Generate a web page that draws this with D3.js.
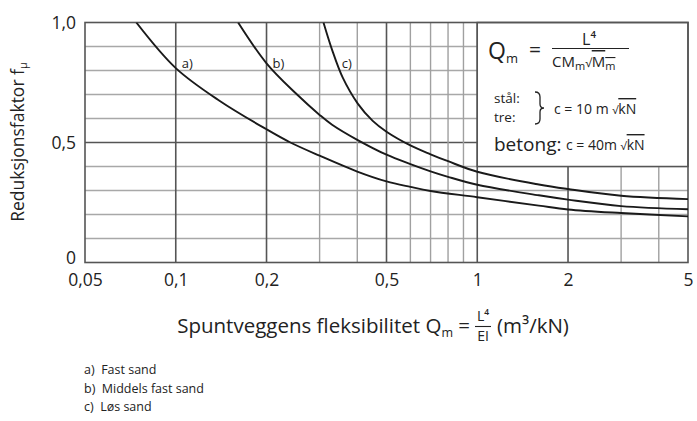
<!DOCTYPE html>
<html><head><meta charset="utf-8">
<script src="https://cdn.jsdelivr.net/npm/d3@7"></script>
<style>
html,body{margin:0;padding:0;background:#fff;}
svg{display:block;font-family:"Open Sans",sans-serif;}
</style></head>
<body>
<svg id="c" width="697" height="421"></svg>
<script>
// ---- data ----
const xTicks = [0.05, 0.1, 0.2, 0.5, 1, 2, 5];
const xTickLabels = ["0,05", "0,1", "0,2", "0,5", "1", "2", "5"];
const yTicks = [0, 0.5, 1];
const yTickLabels = ["0", "0,5", "1,0"];
const xMajorGrid = [0.1, 0.2, 0.5, 1, 2];
const xMinorGrid = [0.3, 0.4, 0.6, 0.7, 0.8, 0.9, 3, 4];
const yGrid = [0.1, 0.2, 0.3, 0.4, 0.6, 0.7, 0.8, 0.9];
const yMajorGrid = [0.5];

const curveA_x = [0.074, 0.1, 0.14, 0.2, 0.24, 0.3, 0.4, 0.5, 0.6, 0.7, 1, 1.6, 2, 3, 5];
const curveA_y = [1.0, 0.81, 0.673, 0.555, 0.5, 0.445, 0.379, 0.338, 0.315, 0.298, 0.272, 0.237, 0.221, 0.206, 0.192];
const curveB_x = [0.161, 0.2, 0.25, 0.3, 0.33, 0.4, 0.5, 0.6, 0.7, 0.8, 1, 1.6, 2, 3, 5];
const curveB_y = [1.0, 0.83, 0.705, 0.615, 0.574, 0.511, 0.449, 0.41, 0.38, 0.357, 0.324, 0.28, 0.262, 0.235, 0.222];
const curveC_x = [0.309, 0.33, 0.358, 0.402, 0.45, 0.5, 0.6, 0.7, 0.8, 1, 1.6, 2, 3, 5];
const curveC_y = [1.0, 0.886, 0.77, 0.661, 0.59, 0.545, 0.488, 0.451, 0.422, 0.378, 0.325, 0.306, 0.278, 0.264];
const curveLabels = ["a)", "b)", "c)"];
const legendItems = ["a)  Fast sand", "b)  Middels fast sand", "c)  Løs sand"];

// ---- layout ----
const svg = d3.select("#c");
const X0 = 85, X1 = 688, Y0 = 262.5, Y1 = 22.5;
const x = d3.scaleLog().domain([0.05, 5]).range([X0, X1]);
const y = d3.scaleLinear().domain([0, 1]).range([Y0, Y1]);
const ink = "#222";

const g = svg.append("g");
// horizontal grid
g.selectAll(".hg").data(yGrid).join("line")
  .attr("x1", X0).attr("x2", X1).attr("y1", d => y(d)).attr("y2", d => y(d))
  .attr("stroke", "#a8a8a8").attr("stroke-width", 1.4);
g.selectAll(".hm").data(yMajorGrid).join("line")
  .attr("x1", X0).attr("x2", X1).attr("y1", d => y(d)).attr("y2", d => y(d))
  .attr("stroke", "#555").attr("stroke-width", 1.6);
// vertical grid
g.selectAll(".vmn").data(xMinorGrid).join("line")
  .attr("x1", d => x(d)).attr("x2", d => x(d)).attr("y1", Y0).attr("y2", Y1)
  .attr("stroke", "#a0a0a0").attr("stroke-width", 1.4);
g.selectAll(".vmj").data(xMajorGrid).join("line")
  .attr("x1", d => x(d)).attr("x2", d => x(d)).attr("y1", Y0).attr("y2", Y1)
  .attr("stroke", "#555").attr("stroke-width", 1.6);

// info box (covers grid)
g.append("rect").attr("x", x(1)).attr("y", y(1)).attr("width", x(5) - x(1)).attr("height", y(0.4) - y(1))
  .attr("fill", "#fff").attr("stroke", "#555").attr("stroke-width", 1.5);

// frame
g.append("rect").attr("x", X0).attr("y", Y1).attr("width", X1 - X0).attr("height", Y0 - Y1)
  .attr("fill", "none").attr("stroke", "#555").attr("stroke-width", 1.6);

// curves
svg.append("clipPath").attr("id", "pc").append("rect")
  .attr("x", X0).attr("y", Y1).attr("width", X1 - X0).attr("height", Y0 - Y1);
const line = d3.line().x(d => x(d[0])).y(d => y(d[1])).curve(d3.curveCatmullRom.alpha(0.5));
const series = [[curveA_x, curveA_y], [curveB_x, curveB_y], [curveC_x, curveC_y]];
series.forEach(([xs, ys]) => {
  g.append("path").attr("d", line(xs.map((v, i) => [v, ys[i]])))
    .attr("fill", "none").attr("stroke", "#1a1a1a").attr("stroke-width", 1.9)
    .attr("clip-path", "url(#pc)");
});
// curve labels
const labelPos = [[0.1, 0.8], [0.2, 0.8], [0.358, 0.8]];
g.selectAll(".cl").data(curveLabels).join("text")
  .attr("x", (d, i) => x(labelPos[i][0]) + (i === 2 ? -1 : 6))
  .attr("y", (d, i) => y(labelPos[i][1]) - 3)
  .attr("font-size", 13).attr("fill", ink).text(d => d);

// axes
const xAxis = d3.axisBottom(x).tickValues(xTicks).tickSize(0).tickPadding(0)
  .tickFormat((d, i) => xTickLabels[i]);
const xa = svg.append("g").attr("transform", `translate(0,${Y0 + 11})`).call(xAxis);
xa.select(".domain").remove();
xa.selectAll("text").attr("font-size", 17.5).attr("fill", ink).attr("font-family", "Open Sans").attr("dy", "0.71em");

const yAxis = d3.axisLeft(y).tickValues(yTicks).tickSize(0).tickPadding(9)
  .tickFormat((d, i) => yTickLabels[i]);
const ya = svg.append("g").attr("transform", `translate(${X0},0)`).call(yAxis);
ya.select(".domain").remove();
ya.selectAll("text").attr("font-size", 17.5).attr("fill", ink).attr("font-family", "Open Sans");
ya.selectAll(".tick").filter(d => d === 0).select("text").attr("dy", "0.05em");

// y title
const yt = svg.append("text").attr("transform", "translate(24,142) rotate(-90)")
  .attr("text-anchor", "middle").attr("font-size", 17.5).attr("fill", ink);
yt.append("tspan").text("Reduksjonsfaktor f");
yt.append("tspan").attr("font-size", 11).attr("dy", 3).text("μ");

// x title
const fracX = 483;
const xt = svg.append("text").attr("x", fracX - 13).attr("y", 333).attr("text-anchor", "end")
  .attr("font-size", 20.5).attr("fill", ink);
xt.append("tspan").text("Spuntveggens fleksibilitet Q");
xt.append("tspan").attr("font-size", 12.5).attr("dy", 4).text("m");
xt.append("tspan").attr("dy", -4).text(" =");
svg.append("text").attr("x", fracX).attr("y", 321).attr("text-anchor", "middle").attr("font-size", 14).attr("fill", ink)
  .text("L⁴");
svg.append("line").attr("x1", fracX - 8).attr("x2", fracX + 8).attr("y1", 326.5).attr("y2", 326.5).attr("stroke", ink).attr("stroke-width", 1.1);
svg.append("text").attr("x", fracX).attr("y", 341).attr("text-anchor", "middle").attr("font-size", 14).attr("fill", ink)
  .text("EI");
svg.append("text").attr("x", fracX + 14).attr("y", 333).attr("font-size", 20.5).attr("fill", ink).text("(m³/kN)");

// legend
svg.selectAll(".lg").data(legendItems).join("text")
  .attr("x", 84).attr("y", (d, i) => 374 + i * 18.5)
  .attr("font-size", 12.5).attr("fill", ink)
  .style("white-space", "pre").text(d => d);

// info box text
const info = svg.append("g").attr("fill", ink);
const q = info.append("text").attr("x", 488).attr("y", 59).attr("font-size", 23);
q.append("tspan").text("Q");
q.append("tspan").attr("font-size", 13).attr("dy", 4).text("m");
info.append("text").attr("x", 529).attr("y", 57).attr("font-size", 21).text("=");
info.append("text").attr("x", 589).attr("y", 45).attr("text-anchor", "middle").attr("font-size", 16).text("L⁴");
info.append("line").attr("x1", 552).attr("x2", 629).attr("y1", 48.5).attr("y2", 48.5).attr("stroke", ink).attr("stroke-width", 1.2);
const den = info.append("text").attr("x", 552).attr("y", 67).attr("font-size", 15);
den.append("tspan").text("CM");
den.append("tspan").attr("font-size", 11).attr("dy", 3).text("m");
den.append("tspan").attr("font-size", 12).attr("dy", -3).text("√");
den.append("tspan").style("text-decoration", "overline").text("M");
den.append("tspan").attr("font-size", 11).attr("dy", 3).style("text-decoration", "overline").text("m");

info.append("text").attr("x", 494).attr("y", 103).attr("font-size", 13.5).text("stål:");
info.append("text").attr("x", 494).attr("y", 121.5).attr("font-size", 13.5).text("tre:");
info.append("path").attr("d", "M535,92 Q540,92 540,97 L540,104 Q540,108 544,108 Q540,108 540,112 L540,119 Q540,124 535,124")
  .attr("fill", "none").attr("stroke", ink).attr("stroke-width", 1.3);
const c1 = info.append("text").attr("x", 554).attr("y", 114).attr("font-size", 14);
c1.append("tspan").text("c = 10 m ");
c1.append("tspan").attr("font-size", 11).text("√");
c1.append("tspan").style("text-decoration", "overline").text("kN");
info.append("text").attr("x", 494).attr("y", 151).attr("font-size", 19).text("betong:");
const c2 = info.append("text").attr("x", 566).attr("y", 150).attr("font-size", 14);
c2.append("tspan").text("c = 40m ");
c2.append("tspan").attr("font-size", 11).text("√");
c2.append("tspan").style("text-decoration", "overline").text("kN");
</script>
</body></html>
